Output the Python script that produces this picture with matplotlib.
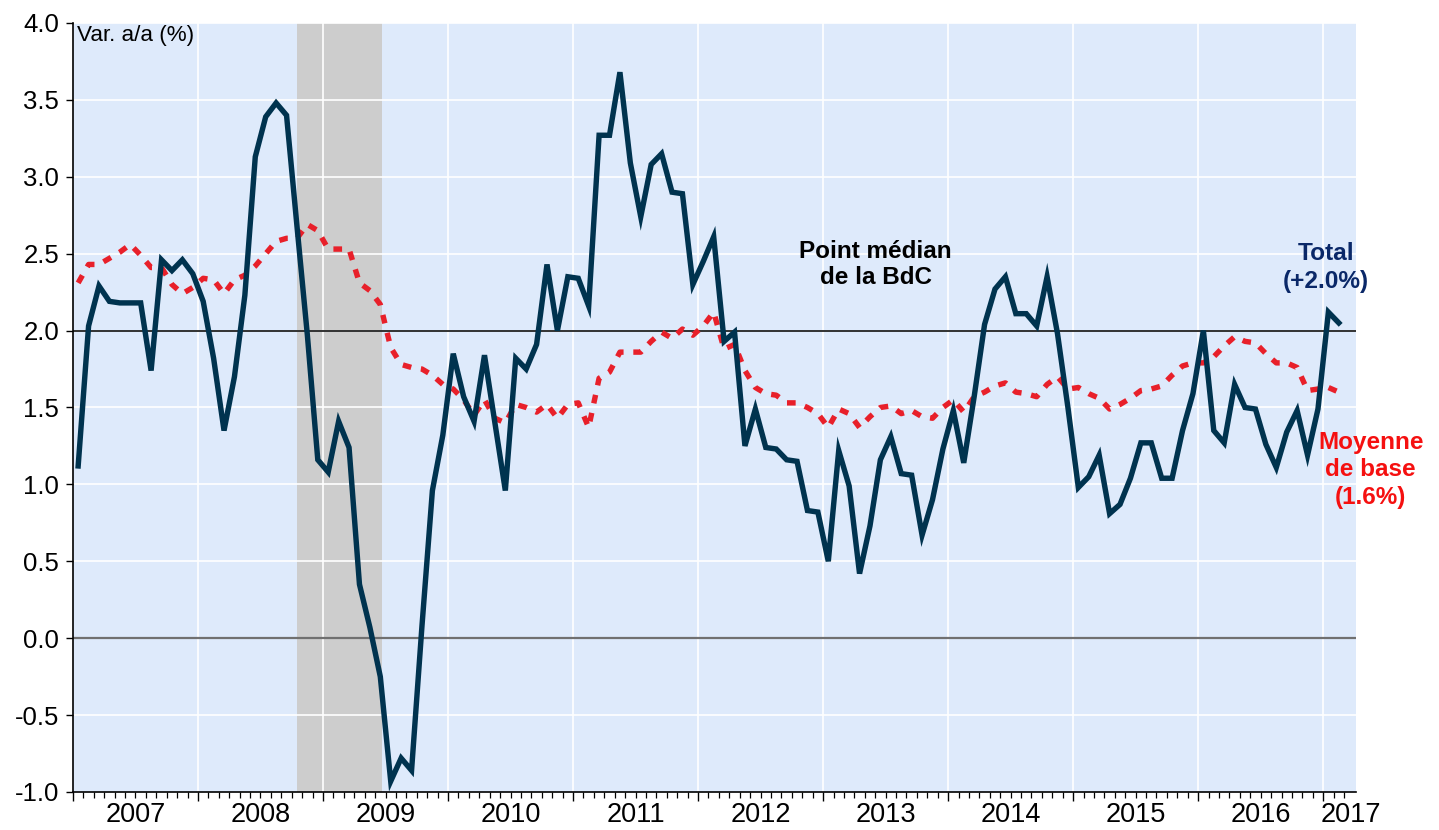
"""IPC total et moyenne de base, variation annuelle, 2007-2017."""

import matplotlib

matplotlib.use("Agg")
import matplotlib.pyplot as plt
import numpy as np
from matplotlib.ticker import FixedLocator, NullFormatter

plt.rcParams["font.family"] = ["Liberation Sans", "DejaVu Sans"]

# monthly data, Jan 2007 .. Feb 2017
start_year = 2007
total = [
    1.12, 2.03, 2.29, 2.19, 2.18, 2.18, 2.18, 1.74, 2.46, 2.39, 2.46, 2.37,
    2.19, 1.82, 1.35, 1.70, 2.23, 3.13, 3.39, 3.48, 3.40, 2.68, 1.97, 1.16,
    1.08, 1.41, 1.24, 0.35, 0.07, -0.25, -0.93, -0.78, -0.86, 0.08, 0.96, 1.32,
    1.85, 1.57, 1.41, 1.84, 1.40, 0.96, 1.82, 1.75, 1.91, 2.43, 2.00, 2.35,
    2.34, 2.16, 3.27, 3.27, 3.68, 3.09, 2.74, 3.08, 3.15, 2.90, 2.89, 2.30,
    2.45, 2.61, 1.93, 1.99, 1.25, 1.49, 1.24, 1.23, 1.16, 1.15, 0.83, 0.82,
    0.50, 1.22, 0.99, 0.42, 0.73, 1.16, 1.31, 1.07, 1.06, 0.67, 0.90, 1.23,
    1.48, 1.14, 1.57, 2.04, 2.27, 2.35, 2.11, 2.11, 2.03, 2.35, 1.98, 1.50,
    0.98, 1.05, 1.19, 0.81, 0.87, 1.04, 1.27, 1.27, 1.04, 1.04, 1.35, 1.59,
    2.00, 1.35, 1.27, 1.65, 1.50, 1.49, 1.26, 1.11, 1.34, 1.48, 1.19, 1.49,
    2.12, 2.05,
]
core = [
    2.31, 2.43, 2.43, 2.47, 2.51, 2.56, 2.49, 2.41, 2.41, 2.30, 2.24, 2.28,
    2.34, 2.33, 2.24, 2.33, 2.36, 2.42, 2.50, 2.58, 2.60, 2.60, 2.69, 2.65,
    2.53, 2.53, 2.53, 2.31, 2.26, 2.17, 1.89, 1.78, 1.76, 1.75, 1.71, 1.65,
    1.62, 1.55, 1.45, 1.55, 1.43, 1.40, 1.52, 1.50, 1.47, 1.52, 1.43, 1.52,
    1.53, 1.37, 1.69, 1.73, 1.86, 1.86, 1.86, 1.93, 1.99, 1.95, 2.01, 1.97,
    2.03, 2.12, 1.88, 1.91, 1.74, 1.63, 1.59, 1.58, 1.53, 1.53, 1.50, 1.46,
    1.37, 1.49, 1.46, 1.37, 1.44, 1.50, 1.51, 1.46, 1.48, 1.44, 1.43, 1.50,
    1.55, 1.47, 1.57, 1.60, 1.64, 1.66, 1.60, 1.59, 1.57, 1.65, 1.70, 1.62,
    1.63, 1.59, 1.56, 1.49, 1.52, 1.56, 1.61, 1.62, 1.64, 1.71, 1.77, 1.79,
    1.79, 1.83, 1.90, 1.96, 1.93, 1.92, 1.85, 1.79, 1.79, 1.76, 1.61, 1.62,
    1.63, 1.60,
]
years = list(range(2007, 2018))
recession = (2008 + 9.5 / 12, 2009 + 5.65 / 12)
target = 2.0

# x positions: middle of each month, in fractional years
x = start_year + (np.arange(len(total)) + 0.5) / 12

BG = "#deeafb"
NAVY = "#00334f"
RED = "#e8202a"

fig = plt.figure(figsize=(14.39, 8.30), dpi=100)
ax = fig.add_axes([0.0507, 0.0458, 0.8914, 0.9265])
ax.set_facecolor(BG)

ax.set_xlim(2007, 2017.26)
ax.set_ylim(-1.0, 4.0)

# shaded recession band, then white grid on top of it
ax.axvspan(*recession, color="#cdcdcd", lw=0, zorder=0.5)
for yv in np.arange(-0.5, 4.01, 0.5):
    ax.axhline(yv, color="white", lw=1.2, zorder=1)
for yr in years[1:]:
    ax.axvline(yr, color="white", lw=1.2, zorder=1)

ax.axhline(0.0, color="#707070", lw=1.6, zorder=2)
ax.axhline(target, color="#222222", lw=1.3, zorder=2)

ax.plot(x, core, color=RED, lw=3.9, dashes=(1.6, 1.8), zorder=3,
        solid_capstyle="butt", dash_capstyle="butt")
ax.plot(x, total, color=NAVY, lw=3.9, zorder=4, solid_joinstyle="miter")

# axes styling
for side in ("top", "right"):
    ax.spines[side].set_visible(False)
for side in ("left", "bottom"):
    ax.spines[side].set_linewidth(1.2)
    ax.spines[side].set_color("black")

ax.set_yticks(np.arange(-1.0, 4.01, 0.5))
ax.set_yticklabels([f"{v:.1f}" for v in np.arange(-1.0, 4.01, 0.5)])
ax.tick_params(axis="y", direction="out", length=5, width=1.0, pad=5,
               labelsize=18.5)

ax.xaxis.set_major_locator(FixedLocator(years))
ax.xaxis.set_major_formatter(NullFormatter())
ax.xaxis.set_minor_locator(FixedLocator(start_year + np.arange(1, 123) / 12))
ax.tick_params(axis="x", which="major", direction="out", length=6.5, width=1.0)
ax.tick_params(axis="x", which="minor", direction="out", length=4, width=0.9)

trans = ax.get_xaxis_transform()
for yr in years[:-1]:
    ax.text(yr + 0.5, -0.0135, str(yr), transform=trans, ha="center",
            va="top", fontsize=19.5)
ax.text(2017.22, -0.0135, "2017", transform=trans, ha="center", va="top",
        fontsize=19.5)

# annotations
ax.text(0.003, 0.997, "Var. a/a (%)", transform=ax.transAxes, ha="left",
        va="top", fontsize=16.2)
ax.text(2013.42, 2.43, "Point médian\nde la BdC", ha="center", va="center",
        fontsize=17.5, fontweight="bold", color="black", linespacing=1.2)
ax.text(2017.02, 2.41, "Total\n(+2.0%)", ha="center", va="center",
        fontsize=17.6, fontweight="bold", color="#0a2868", linespacing=1.25,
        zorder=5)
ax.text(2017.38, 1.095, "Moyenne\nde base\n(1.6%)", ha="center",
        va="center", fontsize=17.5, fontweight="bold", color="#f51010",
        linespacing=1.25, clip_on=False, zorder=5)

fig.savefig("out.png", dpi=100, facecolor="white")
